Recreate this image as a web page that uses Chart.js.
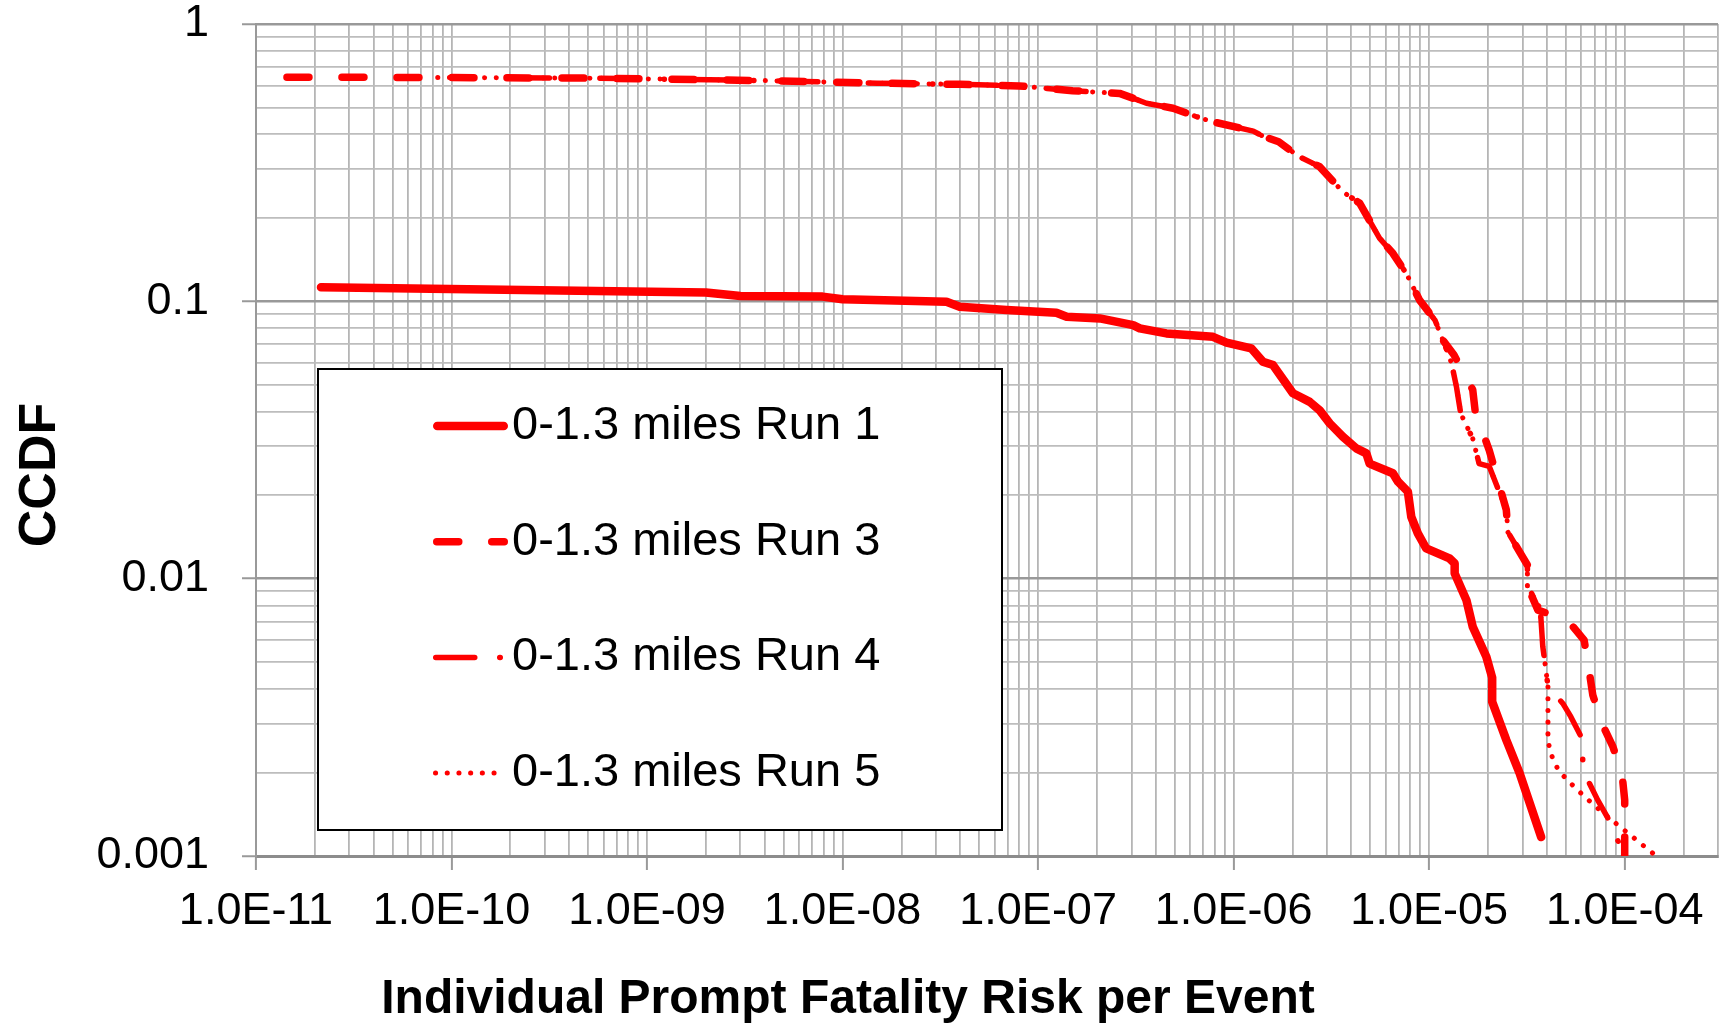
<!DOCTYPE html>
<html>
<head>
<meta charset="utf-8">
<script src="https://cdn.jsdelivr.net/npm/chart.js@4.4.1/dist/chart.umd.min.js"></script>
<style>
  html, body { margin: 0; padding: 0; background: #fff; }
  #wrap { width: 1723px; height: 1024px; position: relative; }
</style>
</head>
<body>
<div id="wrap"><canvas id="ccdf"></canvas></div>
<script>
// ── Axis ticks ──
const xDecades = [1e-11, 1e-10, 1e-9, 1e-8, 1e-7, 1e-6, 1e-5, 1e-4];
const xTickLabels = ['1.0E-11', '1.0E-10', '1.0E-09', '1.0E-08', '1.0E-07', '1.0E-06', '1.0E-05', '1.0E-04'];
const yDecades = [0.001, 0.01, 0.1, 1];
const yTickLabels = ['0.001', '0.01', '0.1', '1'];
const minorSteps = [1, 2, 3, 4, 5, 6, 7, 8, 9];

// ── Series: 0-1.3 miles ──
const run1X = [2.15e-11, 2.0e-9, 3.0e-9, 7.9e-9, 1.0e-8, 3.4e-8, 3.97e-8, 6.9e-8, 1.24e-7, 1.40e-7, 2.07e-7, 3.06e-7, 3.31e-7, 4.53e-7, 7.84e-7, 9.2e-7, 1.23e-6, 1.41e-6, 1.59e-6, 2.01e-6, 2.45e-6, 2.75e-6, 3.1e-6, 3.62e-6, 4.24e-6, 4.77e-6, 4.96e-6, 6.52e-6, 6.92e-6, 7.78e-6, 8.1e-6, 8.75e-6, 9.66e-6, 1.27e-5, 1.35e-5, 1.35e-5, 1.55e-5, 1.67e-5, 1.96e-5, 2.1e-5, 2.1e-5, 2.48e-5, 2.9e-5, 3.74e-5];
const run1Y = [0.1123, 0.1077, 0.1045, 0.1040, 0.1017, 0.0997, 0.0956, 0.0930, 0.0910, 0.0880, 0.0868, 0.0821, 0.0799, 0.0766, 0.0745, 0.0710, 0.0677, 0.0606, 0.0589, 0.0466, 0.0434, 0.0405, 0.0363, 0.0325, 0.0295, 0.0283, 0.0260, 0.0240, 0.0224, 0.0206, 0.0167, 0.01456, 0.01285, 0.01183, 0.01135, 0.01045, 0.00837, 0.00671, 0.00523, 0.0044, 0.0036, 0.00262, 0.00199, 0.00117];

const run3X = [1.44e-11, 1.0e-10, 5.0e-10, 1.0e-9, 4.0e-9, 1.5e-8, 4.0e-8, 8.0e-8, 1.5e-7, 2.07e-7, 2.61e-7, 3.06e-7, 3.58e-7, 4.9e-7, 6.7e-7, 7.84e-7, 1.26e-6, 1.41e-6, 1.7e-6, 2.17e-6, 2.75e-6, 3.62e-6, 4.41e-6, 5.57e-6, 6.52e-6, 7.64e-6, 8.93e-6, 1.07e-5, 1.175e-5, 1.34e-5, 1.67e-5, 1.72e-5, 2.03e-5, 2.48e-5, 2.53e-5, 3.18e-5, 3.2e-5, 3.6e-5, 5.1e-5, 6.2e-5, 6.55e-5, 6.87e-5, 7.65e-5, 8.7e-5, 9.7e-5, 1.0e-4, 1.0e-4];
const run3Y = [0.643, 0.641, 0.638, 0.634, 0.625, 0.612, 0.606, 0.598, 0.575, 0.567, 0.562, 0.540, 0.518, 0.497, 0.459, 0.444, 0.411, 0.394, 0.376, 0.332, 0.306, 0.248, 0.226, 0.169, 0.149, 0.126, 0.101, 0.0856, 0.0725, 0.064, 0.048, 0.040, 0.029, 0.0177, 0.0147, 0.0112, 0.0093, 0.0077, 0.0071, 0.0060, 0.00475, 0.0038, 0.0030, 0.00248, 0.00196, 0.00159, 0.001];

const run4X = [2.0e-10, 5.0e-10, 1.0e-9, 4.0e-9, 1.5e-8, 4.0e-8, 8.0e-8, 1.5e-7, 2.07e-7, 2.61e-7, 3.06e-7, 3.58e-7, 4.9e-7, 6.7e-7, 7.84e-7, 1.26e-6, 1.41e-6, 1.7e-6, 2.17e-6, 2.75e-6, 3.62e-6, 4.41e-6, 5.57e-6, 6.52e-6, 7.64e-6, 8.93e-6, 1.07e-5, 1.175e-5, 1.3e-5, 1.38e-5, 1.45e-5, 1.67e-5, 1.8e-5, 2.03e-5, 2.48e-5, 2.53e-5, 3.18e-5, 3.18e-5, 3.7e-5, 3.81e-5, 4.05e-5, 4.85e-5, 5.3e-5, 6.1e-5, 6.1e-5, 6.35e-5, 7.28e-5, 8.2e-5, 1.0e-4];
const run4Y = [0.640, 0.638, 0.634, 0.625, 0.612, 0.606, 0.598, 0.575, 0.567, 0.562, 0.540, 0.518, 0.497, 0.459, 0.444, 0.411, 0.394, 0.376, 0.332, 0.306, 0.248, 0.226, 0.169, 0.149, 0.126, 0.101, 0.0856, 0.0725, 0.060, 0.049, 0.0394, 0.032, 0.026, 0.0254, 0.0177, 0.0147, 0.0112, 0.0094, 0.0078, 0.0057, 0.0041, 0.00353, 0.00318, 0.00262, 0.0022, 0.00193, 0.00159, 0.00137, 0.001];

const run5X = [8.5e-11, 1.0e-10, 5.0e-10, 1.0e-9, 4.0e-9, 1.5e-8, 4.0e-8, 8.0e-8, 1.5e-7, 2.07e-7, 2.61e-7, 3.06e-7, 3.58e-7, 4.9e-7, 6.7e-7, 7.84e-7, 1.26e-6, 1.41e-6, 1.7e-6, 2.17e-6, 2.75e-6, 3.62e-6, 4.41e-6, 5.57e-6, 6.52e-6, 7.64e-6, 8.93e-6, 1.07e-5, 1.175e-5, 1.3e-5, 1.38e-5, 1.45e-5, 1.67e-5, 1.8e-5, 2.03e-5, 2.48e-5, 2.53e-5, 3.18e-5, 3.18e-5, 3.7e-5, 3.81e-5, 4.05e-5, 4.05e-5, 4.13e-5, 4.33e-5, 4.6e-5, 5.08e-5, 6.22e-5, 7.57e-5, 9.4e-5, 1.17e-4, 1.45e-4];
const run5Y = [0.641, 0.641, 0.638, 0.634, 0.625, 0.612, 0.606, 0.598, 0.575, 0.567, 0.562, 0.540, 0.518, 0.497, 0.459, 0.444, 0.411, 0.394, 0.376, 0.332, 0.306, 0.248, 0.226, 0.169, 0.149, 0.126, 0.101, 0.0856, 0.0725, 0.060, 0.049, 0.0394, 0.032, 0.026, 0.0254, 0.0177, 0.0147, 0.0112, 0.0094, 0.0078, 0.0057, 0.0041, 0.00267, 0.00242, 0.0022, 0.00203, 0.00188, 0.00164, 0.00145, 0.00128, 0.00113, 0.001];

const seriesNames = ['0-1.3 miles Run 1', '0-1.3 miles Run 3', '0-1.3 miles Run 4', '0-1.3 miles Run 5'];

// ── Helpers ──
const FONT = "'Liberation Sans', Arial, sans-serif";
const RED = '#ff0000';
const pts = (xs, ys) => xs.map((x, i) => ({ x, y: ys[i] }));
const isDecade = v => Math.abs(Math.log10(v) - Math.round(Math.log10(v))) < 1e-6;
const logTicks = (decades, max) => {
    const out = [];
    decades.forEach(d => minorSteps.forEach(k => { const v = d * k; if (v <= max * 1.0001) out.push({ value: v }); }));
    return out;
};
const labelFor = (v, decades, labels) => {
    const i = decades.findIndex(d => Math.abs(v / d - 1) < 1e-6);
    return i >= 0 ? labels[i] : '';
};
// pin the plot box: no automatic label padding around the chart area
const noPad = s => { s.paddingTop = 0; s.paddingBottom = 0; s.paddingLeft = 0; s.paddingRight = 0; };

// ── Legend + axis titles (drawn on top of the plot) ──
const overlayPlugin = {
    id: 'overlay',
    afterDraw(chart) {
        const ctx = chart.ctx;
        ctx.save();

        // legend box
        const box = { left: 318, top: 369, right: 1002, bottom: 830 };
        ctx.fillStyle = '#fff';
        ctx.fillRect(box.left, box.top, box.right - box.left, box.bottom - box.top);
        ctx.strokeStyle = '#000';
        ctx.lineWidth = 2;
        ctx.strokeRect(box.left, box.top, box.right - box.left, box.bottom - box.top);

        chart.data.datasets.forEach((ds, i) => {
            const y = box.top + 57 + i * 115.7;
            const w = ds.borderWidth;
            const x1 = 433 + w / 2;
            const x2 = (i === 3 ? 499 : 508) - w / 2;
            ctx.strokeStyle = ds.borderColor;
            ctx.lineWidth = w;
            ctx.lineCap = 'round';
            ctx.setLineDash(ds.borderDash || []);
            ctx.beginPath();
            ctx.moveTo(x1, y);
            ctx.lineTo(x2, y);
            ctx.stroke();
            ctx.setLineDash([]);
            ctx.fillStyle = '#000';
            ctx.font = `47px ${FONT}`;
            ctx.textAlign = 'left';
            ctx.textBaseline = 'middle';
            ctx.fillText(ds.label, 512, y);
        });

        // axis titles
        ctx.fillStyle = '#000';
        ctx.font = `bold 48px ${FONT}`;
        ctx.textAlign = 'center';
        ctx.textBaseline = 'alphabetic';
        ctx.fillText('Individual Prompt Fatality Risk per Event', 848, 1013);

        ctx.translate(55, 475);
        ctx.rotate(-Math.PI / 2);
        ctx.font = `bold 52px ${FONT}`;
        ctx.fillText('CCDF', 0, 0);
        ctx.restore();
    }
};

const lineStyle = { showLine: true, pointRadius: 0, borderColor: RED, backgroundColor: RED, borderCapStyle: 'round', borderJoinStyle: 'round', tension: 0, fill: false };

new Chart(document.getElementById('ccdf'), {
    type: 'scatter',
    data: {
        datasets: [
            { ...lineStyle, label: seriesNames[0], data: pts(run1X, run1Y), borderWidth: 8.5 },
            { ...lineStyle, label: seriesNames[1], data: pts(run3X, run3Y), borderWidth: 7.5, borderDash: [22, 33] },
            { ...lineStyle, label: seriesNames[2], data: pts(run4X, run4Y), borderWidth: 5.5, borderDash: [39, 25, 0.5, 25] },
            { ...lineStyle, label: seriesNames[3], data: pts(run5X, run5Y), borderWidth: 5, borderDash: [0.1, 11.6] }
        ]
    },
    options: {
        responsive: true,
        maintainAspectRatio: false,
        animation: false,
        layout: { padding: { top: 24, right: 5, left: 0, bottom: 0 } },
        plugins: { legend: { display: false }, tooltip: { enabled: false } },
        scales: {
            x: {
                type: 'logarithmic',
                min: 1e-11, max: 3e-4,
                afterBuildTicks: s => { s.ticks = logTicks(xDecades, 3e-4); },
                afterFit: s => { s.height = 168; noPad(s); },
                grid: {
                    color: '#b5b5b5', lineWidth: 1.8,
                    tickLength: 14,
                    tickColor: c => (c.tick && isDecade(c.tick.value)) ? '#999' : 'rgba(0,0,0,0)',
                    tickWidth: 2
                },
                border: { display: true, color: '#8c8c8c', width: 3 },
                ticks: {
                    autoSkip: false, maxRotation: 0, minRotation: 0, padding: 19,
                    color: '#000', font: { family: FONT, size: 45, lineHeight: 1 },
                    callback: v => labelFor(v, xDecades, xTickLabels)
                }
            },
            y: {
                type: 'logarithmic',
                min: 0.001, max: 1,
                afterBuildTicks: s => { s.ticks = logTicks(yDecades, 1); },
                afterFit: s => { s.width = 256; noPad(s); },
                grid: {
                    color: c => (c.tick && isDecade(c.tick.value)) ? '#999' : '#bdbdbd',
                    lineWidth: c => (c.tick && isDecade(c.tick.value)) ? 2.5 : 1.8,
                    tickLength: 14,
                    tickColor: c => (c.tick && isDecade(c.tick.value)) ? '#999' : 'rgba(0,0,0,0)',
                    tickWidth: 2
                },
                border: { display: true, color: '#999', width: 2 },
                ticks: {
                    autoSkip: false, padding: 33,
                    color: '#000', font: { family: FONT, size: 45, lineHeight: 1 },
                    callback: v => labelFor(v, yDecades, yTickLabels)
                }
            }
        }
    },
    plugins: [overlayPlugin]
});
</script>
</body>
</html>
